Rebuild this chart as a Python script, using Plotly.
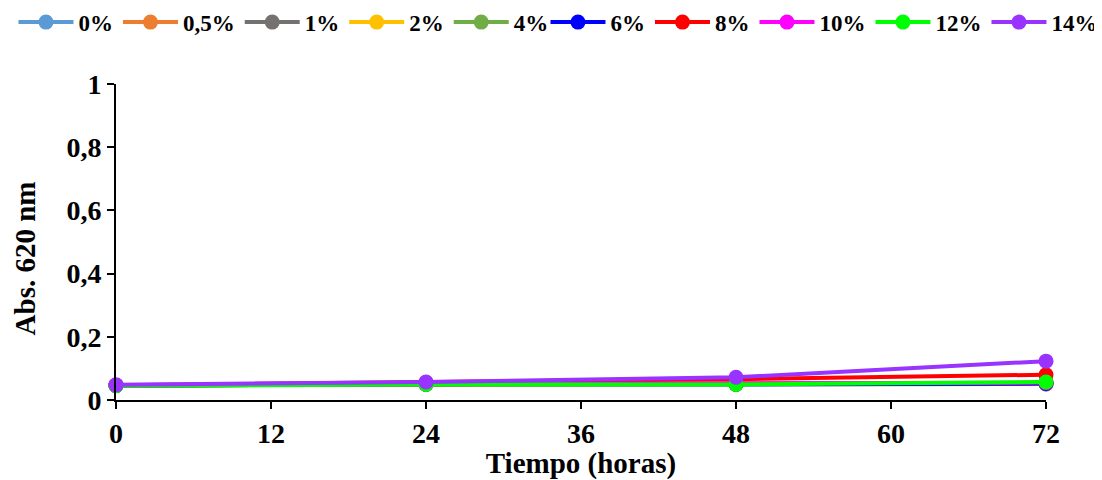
import plotly.graph_objects as go

hours = [0, 24, 48, 72]
series_names = ["0%", "0,5%", "1%", "2%", "4%", "6%", "8%", "10%", "12%", "14%"]
colors = ["#5B9BD5", "#ED7D31", "#767171", "#FFC000", "#70AD47",
          "#0000FF", "#FF0000", "#FF00FF", "#00FF00", "#9933FF"]
v0 = [0.046, 0.050, 0.050, 0.051]
v05 = [0.046, 0.050, 0.051, 0.052]
v1 = [0.046, 0.050, 0.050, 0.051]
v2 = [0.046, 0.050, 0.051, 0.052]
v4 = [0.046, 0.051, 0.052, 0.054]
v6 = [0.046, 0.050, 0.050, 0.052]
v8 = [0.047, 0.055, 0.066, 0.080]
v10 = [0.046, 0.051, 0.053, 0.055]
v12 = [0.045, 0.049, 0.049, 0.057]
v14 = [0.048, 0.057, 0.072, 0.123]
values = [v0, v05, v1, v2, v4, v6, v8, v10, v12, v14]
x_title = "Tiempo (horas)"
y_title = "Abs. 620 nm"

fig = go.Figure()
for i, (name, col, vals) in enumerate(zip(series_names, colors, values)):
    fig.add_trace(go.Scatter(
        x=hours, y=vals, name=name, mode="lines+markers",
        line=dict(color=col, width=4),
        marker=dict(color=col, size=15),
        cliponaxis=False,
        legend="legend" if i < 5 else "legend2",
    ))

font_family = "Liberation Serif, Times New Roman, serif"
leg_common = dict(orientation="h", xref="container", yref="container",
                  xanchor="left", y=0.970, yanchor="middle",
                  font=dict(family=font_family, size=23, color="black", weight="bold"),
                  itemwidth=55, tracegroupgap=0, traceorder="normal",
                  bgcolor="rgba(0,0,0,0)")
# page body has an 8px default margin, so the figure is 8px smaller and margins shifted
fig.update_layout(
    width=1094, height=472,
    margin=dict(l=108, r=56, t=76, b=80),
    plot_bgcolor="white", paper_bgcolor="white",
    font=dict(family=font_family, size=24, color="black"),
    showlegend=True,
    legend=dict(x=0.005, **leg_common),
    legend2=dict(x=0.4913, **leg_common),
    xaxis=dict(range=[0, 72], tickvals=[0, 12, 24, 36, 48, 60, 72],
               showline=True, linecolor="black", linewidth=2,
               ticks="outside", ticklen=7, tickwidth=2, tickcolor="black",
               showgrid=False, zeroline=False, automargin=False,
               tickfont=dict(family=font_family, size=28, weight="bold"),
               title=dict(text="<b>" + x_title + "</b>", standoff=0,
                          font=dict(family=font_family, size=29))),
    yaxis=dict(range=[0, 1], tickvals=[0, 0.2, 0.4, 0.6, 0.8, 1],
               ticktext=["0", "0,2", "0,4", "0,6", "0,8", "1"],
               showline=True, linecolor="black", linewidth=2,
               ticks="outside", ticklen=7, tickwidth=2, tickcolor="black",
               showgrid=False, zeroline=False, automargin=False,
               tickfont=dict(family=font_family, size=28, weight="bold")),
    annotations=[dict(text="<b>" + y_title + "</b>", textangle=-90,
                      xref="paper", yref="paper", x=-0.0975, y=0.449,
                      xanchor="center", yanchor="middle", showarrow=False,
                      font=dict(family=font_family, size=29, color="black"))],
)

fig.write_html("out.html")
